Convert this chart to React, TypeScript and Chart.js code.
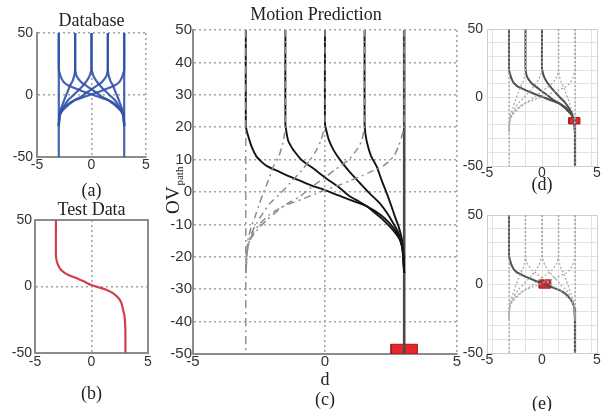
import React, { useEffect, useRef } from 'react';
import { Chart, registerables } from 'chart.js';
Chart.register(...registerables);

// ---------------- data (d = lateral offset, v = OV_path) ----------------
const dTicks = [-5, 0, 5];
const vTicksSmall = [-50, 0, 50];
const gridDs = [-4.5, -3, -1.5, 0, 1.5, 3, 4.5];

// trajectories merging into the right lane (d = 3)
const rM3D = [-3, -3, -2.97, -2.9, -2.78, -2.6, -2.4, -2.2, -1.8, -1.4, -0.95, -0.5, 0, 0.4, 0.8, 1.2, 1.6, 2.1, 2.45, 2.75, 2.92, 3];
const rM3V = [50, 21, 19, 17, 14, 11, 9.3, 8, 6.5, 5, 3.5, 2, 0.6, -0.7, -2, -3.2, -4.5, -7, -9.7, -13, -17, -25];
const rM15D = [-1.5, -1.5, -1.47, -1.4, -1.3, -1.2, -0.9, -0.4, 0, 0.5, 0.95, 1.3, 1.6, 1.9, 2.2, 2.6, 2.85, 2.97, 3];
const rM15V = [50, 21, 19, 16, 14.3, 13, 10, 7, 4.5, 1.6, -1.4, -3, -4.5, -6.5, -8.6, -12, -15, -19, -25];
const r0D = [0, 0, 0.05, 0.15, 0.32, 0.57, 0.9, 1.33, 1.7, 2.08, 2.35, 2.59, 2.8, 2.93, 3];
const r0V = [50, 21, 19, 16, 13, 9.9, 6.5, 2.7, -0.5, -3.5, -6.5, -9.7, -13, -17, -25];
const r15D = [1.5, 1.5, 1.53, 1.6, 1.75, 1.96, 2.15, 2.34, 2.5, 2.65, 2.8, 2.92, 3];
const r15V = [50, 21, 18, 15, 11, 7.8, 3.5, -0.4, -4, -7.6, -11, -15, -25];

// trajectories merging into the left lane (d = -3)
const l3D = [3, 3, 2.97, 2.9, 2.78, 2.6, 2.4, 2.2, 1.8, 1.4, 0.95, 0.5, 0, -0.4, -0.8, -1.2, -1.6, -2.1, -2.45, -2.75, -2.92, -3];
const l3V = [50, 21, 19, 17, 14, 11, 9.3, 8, 6.5, 5, 3.5, 2, 0.6, -0.7, -2, -3.2, -4.5, -7, -9.7, -13, -17, -25];
const l15D = [1.5, 1.5, 1.47, 1.4, 1.3, 1.2, 0.9, 0.4, 0, -0.5, -0.95, -1.3, -1.6, -1.9, -2.2, -2.6, -2.85, -2.97, -3];
const l15V = [50, 21, 19, 16, 14.3, 13, 10, 7, 4.5, 1.6, -1.4, -3, -4.5, -6.5, -8.6, -12, -15, -19, -25];
const l0D = [0, 0, -0.05, -0.15, -0.32, -0.57, -0.9, -1.33, -1.7, -2.08, -2.35, -2.59, -2.8, -2.93, -3];
const l0V = [50, 21, 19, 16, 13, 9.9, 6.5, 2.7, -0.5, -3.5, -6.5, -9.7, -13, -17, -25];
const lM15D = [-1.5, -1.5, -1.53, -1.6, -1.75, -1.96, -2.15, -2.34, -2.5, -2.65, -2.8, -2.92, -3];
const lM15V = [50, 21, 18, 15, 11, 7.8, 3.5, -0.4, -4, -7.6, -11, -15, -25];

// straight lanes
const laneLD = [-3, -3];
const laneLV = [50, -50];
const laneRD = [3, 3];
const laneRV = [50, -50];
const tailV = [-17, -50];

// test trajectory (b)
const testD = [-3.15, -3.15, -3.1, -3.0, -2.8, -2.5, -2.0, -1.3, -0.6, 0, 0.7, 1.35, 1.9, 2.4, 2.65, 2.8, 2.92, 2.97, 3.0, 3.0];
const testV = [50, 24, 20, 17, 13.7, 11, 8.5, 6.2, 3.5, 1.1, -0.8, -2.6, -5, -8.9, -12.5, -17.7, -22, -27.5, -33, -50];

// vehicle boxes: [d0, d1], [v0, v1]
const carCD = [2.5, 3.5];
const carCV = [-50, -47];
const carDD = [2.45, 3.45];
const carDV = [-19.3, -14.7];
const carED = [-0.25, 0.8];
const carEV = [-3, 3];

// ---------------- helpers ----------------
type P = { x: number; y: number };
const pts = (d: number[], v: number[]): P[] => d.map((x, i) => ({ x, y: v[i] }));
const boxPts = (d: number[], v: number[]): P[] => [
  { x: d[0], y: v[0] }, { x: d[1], y: v[0] }, { x: d[1], y: v[1] }, { x: d[0], y: v[1] }, { x: d[0], y: v[0] },
];
const line = (d: number[], v: number[], color: string, width: number, dash: number[] = []) => ({
  data: pts(d, v), showLine: true, borderColor: color, borderWidth: width, borderDash: dash,
  pointRadius: 0, pointHoverRadius: 0, tension: 0.25, fill: false,
});
const car = (d: number[], v: number[]) => ({
  data: boxPts(d, v), showLine: true, borderColor: '#a01818', borderWidth: 1, backgroundColor: '#e6262c',
  fill: 'shape', pointRadius: 0, tension: 0,
});

const sans = '"Liberation Sans", Arial, sans-serif';
const serif = '"Liberation Serif", "Times New Roman", serif';
const tickFont = (size: number) => ({ family: sans, size, lineHeight: 1 });
const titleFont = { family: serif, size: 18, lineHeight: 1, weight: 'normal' };
const NONE = 'rgba(0,0,0,0)';
const gridAt = (vals: number[], color: string) => (ctx: any) =>
  ctx.tick && vals.includes(ctx.tick.value) ? color : NONE;
const setTicks = (vals: number[]) => (s: any) => { s.ticks = vals.map((value) => ({ value })); };

const allR = [[rM3D, rM3V], [rM15D, rM15V], [r0D, r0V], [r15D, r15V]];
const allL = [[l3D, l3V], [l15D, l15V], [l0D, l0V], [lM15D, lM15V]];

const ovPlugin = {
  id: 'ovLabel',
  afterDraw(chart: any) {
    const { ctx } = chart;
    ctx.save();
    ctx.translate(29, 214);
    ctx.rotate(-Math.PI / 2);
    ctx.fillStyle = '#222';
    ctx.textAlign = 'left';
    ctx.textBaseline = 'alphabetic';
    ctx.font = `19px ${serif}`;
    const main = 'OV';
    ctx.fillText(main, 0, 0);
    const w = ctx.measureText(main).width;
    ctx.font = `11px ${serif}`;
    ctx.fillText('path', w + 1, 4);
    ctx.restore();
  },
};

function baseOptions(extra: any) {
  return {
    responsive: false,
    animation: false,
    devicePixelRatio: 1,
    events: [],
    plugins: { legend: { display: false }, tooltip: { enabled: false }, ...(extra.plugins || {}) },
    layout: extra.layout,
    scales: extra.scales,
  };
}

function smallAxes(o: {
  caption: string; wy: number; hx: number; capPad: number; capLH: number; yPad: number; xPad: number;
  xGrid: number[]; yGrid: number[]; borderColor: string; borderWidth: number;
}) {
  return {
    x: {
      type: 'linear', min: -5, max: 5,
      afterBuildTicks: setTicks(dTicks),
      ticks: { font: tickFont(14), color: '#333', padding: o.xPad, maxRotation: 0 },
      grid: { color: gridAt(o.xGrid, '#a3a3a3'), lineWidth: 1.6, drawTicks: false },
      border: { color: o.borderColor, width: o.borderWidth, dash: [2, 3] },
      title: { display: true, text: o.caption, color: '#222', font: { family: serif, size: 18, lineHeight: o.capLH }, padding: { top: 0, bottom: o.capPad } },
      afterFit: (s: any) => { s.height = o.hx; },
    },
    y: {
      type: 'linear', min: -50, max: 50,
      afterBuildTicks: setTicks(vTicksSmall),
      ticks: { font: tickFont(14), color: '#333', padding: o.yPad },
      grid: { color: gridAt(o.yGrid, '#a3a3a3'), lineWidth: 1.6, drawTicks: false },
      border: { color: o.borderColor, width: o.borderWidth, dash: [2, 3] },
      afterFit: (s: any) => { s.width = o.wy; },
    },
  };
}

// ---------------- panel configs ----------------
function configA() {
  const blue = 'rgba(50,82,168,0.9)';
  const datasets = [
    line(laneLD, laneLV, blue, 2.2), line(laneRD, laneRV, blue, 2.2),
    ...allR.map(([d, v]) => line(d, v, blue, 2.2)),
    ...allL.map(([d, v]) => line(d, v, blue, 2.2)),
  ];
  return {
    type: 'scatter',
    data: { datasets },
    options: baseOptions({
      layout: { padding: { left: 0, top: 12, right: 8, bottom: 0 } },
      plugins: { title: { display: true, text: 'Database', fullSize: false, color: '#222', font: titleFont, padding: { top: 0, bottom: 3 } } },
      scales: smallAxes({ caption: '(a)', wy: 37, hx: 45, capPad: 0.2, capLH: 1.2, yPad: 4, xPad: 1, xGrid: [0, 5], yGrid: [0, 50], borderColor: '#8c8c8c', borderWidth: 2 }),
    }),
  };
}

function configB() {
  const red = '#d2404b';
  const scales: any = smallAxes({ caption: '(b)', wy: 35, hx: 52, capPad: 0.2, capLH: 1.2, yPad: 3, xPad: 2, xGrid: [0], yGrid: [0], borderColor: '#8c8c8c', borderWidth: 2 });
  scales.x2 = { type: 'linear', position: 'top', min: -5, max: 5, ticks: { display: false }, grid: { display: false, drawTicks: false }, border: { color: '#8c8c8c', width: 2 }, afterFit: (s: any) => { s.height = 0; } };
  scales.y2 = { type: 'linear', position: 'right', min: -50, max: 50, ticks: { display: false }, grid: { display: false, drawTicks: false }, border: { color: '#8c8c8c', width: 2 }, afterFit: (s: any) => { s.width = 0; } };
  return {
    type: 'scatter',
    data: { datasets: [line(testD, testV, red, 2.2)] },
    options: baseOptions({
      layout: { padding: { left: 0, top: 11, right: 8, bottom: 0 } },
      plugins: { title: { display: true, text: 'Test Data', fullSize: false, color: '#222', font: titleFont, padding: { top: 0, bottom: 1 } } },
      scales,
    }),
  };
}

function configC() {
  const gray = '#8d8d8d';
  const black = '#141414';
  const datasets = [
    line(laneLD, laneLV, gray, 1.4, [8, 4, 2, 4]),
    ...allL.map(([d, v]) => line(d, v, gray, 1.5, [7, 4, 2, 4])),
    ...allR.map(([d, v]) => line(d, v, black, 1.9)),
    line(laneRD, laneRV, '#4a4a4a', 2.6),
    car(carCD, carCV),
  ];
  return {
    type: 'scatter',
    data: { datasets },
    plugins: [ovPlugin],
    options: baseOptions({
      layout: { padding: { left: 17, top: 6, right: 2, bottom: 0 } },
      plugins: { title: { display: true, text: 'Motion Prediction', fullSize: true, color: '#222', font: titleFont, padding: { top: 0, bottom: 6 } } },
      scales: {
        x: {
          type: 'linear', min: -5, max: 5,
          afterBuildTicks: setTicks(dTicks),
          ticks: { font: tickFont(15), color: '#333', padding: 0, maxRotation: 0 },
          grid: { color: gridAt([0, 5], '#a3a3a3'), lineWidth: 1.6, drawTicks: false },
          border: { color: '#8c8c8c', width: 2, dash: [2, 3] },
          title: { display: true, text: ['d', '(c)'], color: '#222', font: { family: serif, size: 18, lineHeight: 1.1 }, padding: { top: 0, bottom: 0.3 } },
          afterFit: (s: any) => { s.height = 56; },
        },
        y: {
          type: 'linear', min: -50, max: 50,
          ticks: { stepSize: 10, font: tickFont(15), color: '#333', padding: 1 },
          grid: { color: gridAt([-40, -30, -20, -10, 0, 10, 20, 30, 40, 50], '#a3a3a3'), lineWidth: 1.6, drawTicks: false },
          border: { color: '#8c8c8c', width: 2, dash: [2, 3] },
          afterFit: (s: any) => { s.width = 26; },
        },
        yr: {
          type: 'linear', position: 'right', min: -50, max: 50,
          ticks: { display: false }, grid: { display: false, drawTicks: false }, border: { display: false },
          afterFit: (s: any) => { s.width = 8; },
        },
      },
    }),
  };
}

function lightAxes(caption: string, hx: number, capLH: number) {
  const scales: any = smallAxes({ caption, wy: 37, hx, capPad: capLH > 1 ? 0.2 : 0, capLH, yPad: 4, xPad: 0, xGrid: [], yGrid: [], borderColor: '#cfcfcf', borderWidth: 1 });
  scales.xg = {
    type: 'linear', position: 'top', min: -5, max: 5,
    afterBuildTicks: setTicks(gridDs),
    ticks: { display: false }, grid: { color: '#e2e2e2', lineWidth: 1, drawTicks: false },
    border: { color: '#cfcfcf', width: 1 }, afterFit: (s: any) => { s.height = 0; },
  };
  scales.yg = {
    type: 'linear', position: 'right', min: -50, max: 50,
    ticks: { display: false, stepSize: 10 }, grid: { color: '#e2e2e2', lineWidth: 1, drawTicks: false },
    border: { color: '#cfcfcf', width: 1 }, afterFit: (s: any) => { s.width = 0; },
  };
  return scales;
}

const dotGray = '#a9a9a9';
const solidGray = '#505050';

function configD() {
  const datasets = [
    line(laneLD, laneLV, dotGray, 1.4, [2, 2]),
    line(laneRD, laneRV, dotGray, 1.4, [2, 2]),
    ...allL.map(([d, v]) => line(d, v, dotGray, 1.3, [2, 2])),
    line(r15D, r15V, dotGray, 1.3, [2, 2]),
    line(rM3D, rM3V, solidGray, 2),
    line(rM15D, rM15V, solidGray, 2),
    line(r0D, r0V, solidGray, 2),
    line(laneRD, tailV, solidGray, 2.2),
    car(carDD, carDV),
  ];
  return {
    type: 'scatter',
    data: { datasets },
    options: baseOptions({
      layout: { padding: { left: 0, top: 29, right: 8, bottom: 0 } },
      scales: lightAxes('(d)', 30, 1.2),
    }),
  };
}

function configE() {
  const datasets = [
    line(laneLD, laneLV, dotGray, 1.4, [2, 2]),
    line(laneRD, laneRV, dotGray, 1.4, [2, 2]),
    ...allL.map(([d, v]) => line(d, v, dotGray, 1.3, [2, 2])),
    line(rM15D, rM15V, dotGray, 1.3, [2, 2]),
    line(r0D, r0V, dotGray, 1.3, [2, 2]),
    line(r15D, r15V, dotGray, 1.3, [2, 2]),
    line(rM3D, rM3V, solidGray, 2),
    line(laneRD, tailV, solidGray, 2.2),
    car(carED, carEV),
  ];
  return {
    type: 'scatter',
    data: { datasets },
    options: baseOptions({
      layout: { padding: { left: 0, top: 20, right: 8, bottom: 0 } },
      scales: lightAxes('(e)', 60, 1.0),
    }),
  };
}

// ---------------- components ----------------
function Panel(props: { left: number; top: number; width: number; height: number; make: () => any }) {
  const ref = useRef<HTMLCanvasElement>(null);
  useEffect(() => {
    const chart = new Chart(ref.current as HTMLCanvasElement, props.make());
    return () => chart.destroy();
  }, []);
  return (
    <canvas
      ref={ref}
      width={props.width}
      height={props.height}
      style={{ position: 'absolute', left: props.left, top: props.top, width: props.width, height: props.height }}
    />
  );
}

export default function App() {
  return (
    <div style={{ position: 'fixed', left: 0, top: 0, width: 605, height: 411, overflow: 'hidden', background: '#fff' }}>
      <Panel left={0} top={0} width={154} height={202} make={configA} />
      <Panel left={0} top={190} width={156} height={215} make={configB} />
      <Panel left={150} top={0} width={317} height={410} make={configC} />
      <Panel left={450} top={0} width={155} height={196} make={configD} />
      <Panel left={450} top={195} width={155} height={218} make={configE} />
    </div>
  );
}
